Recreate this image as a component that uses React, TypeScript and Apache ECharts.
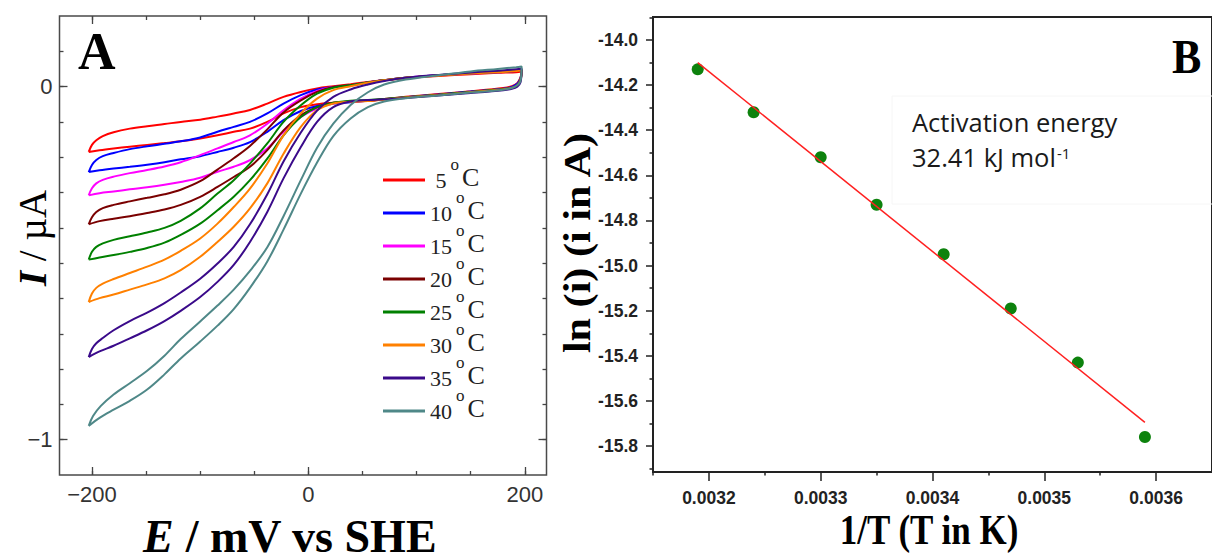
import React, { useEffect, useRef } from 'react';
import * as echarts from 'echarts';

// ---------- Panel A: cyclic voltammograms (E in mV, I in µA) ----------
const temps = ['5', '10', '15', '20', '25', '30', '35', '40'];
const cvColors = ['#ff0000', '#0000ff', '#ff00ff', '#7a0000', '#008000', '#ff8000', '#3a0a8a', '#4f8888'];

const cv05Up = [[-203,-0.185],[-200,-0.165],[-196,-0.152],[-190,-0.140],[-180,-0.129],[-165,-0.119],[-149,-0.112],[-133,-0.106],[-118,-0.100],[-100,-0.094],[-84,-0.085],[-69,-0.076],[-54,-0.066],[-38,-0.048],[-23,-0.029],[-7,-0.015],[8,-0.005],[23,0.001],[39,0.007],[55,0.013],[70,0.018],[90,0.024],[120,0.030],[150,0.035],[175,0.039],[192,0.041],[197,0.043]];
const cv05Down = [[196,0.026],[193,0.010],[188,0.001],[180,-0.004],[150,-0.013],[120,-0.021],[90,-0.029],[70,-0.035],[55,-0.040],[39,-0.043],[23,-0.046],[8,-0.050],[-7,-0.058],[-23,-0.076],[-38,-0.100],[-54,-0.119],[-69,-0.128],[-84,-0.138],[-100,-0.147],[-118,-0.155],[-133,-0.160],[-149,-0.165],[-165,-0.170],[-180,-0.175],[-193,-0.180],[-203,-0.185]];

const cv10Up = [[-203,-0.242],[-200,-0.222],[-196,-0.208],[-190,-0.197],[-180,-0.188],[-165,-0.177],[-149,-0.169],[-133,-0.162],[-118,-0.155],[-100,-0.144],[-84,-0.128],[-69,-0.114],[-54,-0.100],[-38,-0.076],[-23,-0.048],[-7,-0.024],[8,-0.008],[23,-0.001],[39,0.004],[55,0.012],[70,0.018],[90,0.025],[120,0.032],[150,0.037],[175,0.041],[192,0.044],[197,0.046]];
const cv10Down = [[196,0.024],[193,0.008],[188,-0.001],[180,-0.006],[150,-0.014],[120,-0.022],[90,-0.030],[70,-0.036],[55,-0.040],[39,-0.044],[23,-0.048],[8,-0.055],[-7,-0.069],[-23,-0.095],[-38,-0.128],[-54,-0.157],[-69,-0.173],[-84,-0.185],[-100,-0.197],[-118,-0.206],[-133,-0.214],[-149,-0.221],[-165,-0.227],[-180,-0.232],[-193,-0.237],[-203,-0.242]];

const cv15Up = [[-203,-0.308],[-200,-0.288],[-196,-0.274],[-190,-0.264],[-180,-0.255],[-165,-0.245],[-149,-0.236],[-133,-0.226],[-118,-0.214],[-100,-0.194],[-84,-0.175],[-69,-0.157],[-54,-0.138],[-38,-0.105],[-23,-0.067],[-7,-0.034],[8,-0.012],[23,-0.001],[39,0.003],[55,0.012],[70,0.018],[90,0.025],[120,0.032],[150,0.037],[175,0.042],[192,0.045],[197,0.047]];
const cv15Down = [[196,0.020],[193,0.004],[188,-0.003],[180,-0.007],[150,-0.016],[120,-0.024],[90,-0.031],[70,-0.036],[55,-0.040],[39,-0.043],[23,-0.048],[8,-0.062],[-7,-0.086],[-23,-0.128],[-38,-0.175],[-54,-0.208],[-69,-0.227],[-84,-0.241],[-100,-0.258],[-118,-0.270],[-133,-0.278],[-149,-0.285],[-165,-0.291],[-180,-0.297],[-193,-0.302],[-203,-0.308]];

const cv20Up = [[-203,-0.390],[-200,-0.370],[-196,-0.355],[-190,-0.344],[-180,-0.335],[-165,-0.325],[-149,-0.315],[-133,-0.305],[-118,-0.292],[-100,-0.268],[-84,-0.235],[-69,-0.203],[-54,-0.168],[-38,-0.121],[-23,-0.073],[-7,-0.039],[8,-0.015],[23,-0.001],[39,0.004],[55,0.012],[70,0.018],[90,0.025],[120,0.032],[150,0.038],[175,0.042],[192,0.045],[197,0.047]];
const cv20Down = [[196,0.018],[193,0.003],[188,-0.004],[180,-0.008],[150,-0.016],[120,-0.024],[90,-0.031],[70,-0.036],[55,-0.040],[39,-0.042],[23,-0.046],[8,-0.058],[-7,-0.081],[-23,-0.124],[-38,-0.180],[-54,-0.227],[-69,-0.256],[-84,-0.284],[-100,-0.312],[-118,-0.335],[-133,-0.348],[-149,-0.358],[-165,-0.367],[-180,-0.374],[-193,-0.381],[-203,-0.390]];

const cv25Up = [[-203,-0.490],[-200,-0.468],[-196,-0.454],[-190,-0.444],[-180,-0.434],[-165,-0.424],[-149,-0.413],[-133,-0.400],[-118,-0.380],[-100,-0.345],[-84,-0.303],[-69,-0.265],[-54,-0.218],[-38,-0.161],[-23,-0.100],[-7,-0.053],[8,-0.020],[23,-0.003],[39,0.004],[55,0.012],[70,0.018],[90,0.025],[120,0.032],[150,0.038],[175,0.042],[192,0.046],[197,0.048]];
const cv25Down = [[196,0.020],[193,0.004],[188,-0.003],[180,-0.007],[150,-0.015],[120,-0.023],[90,-0.030],[70,-0.035],[55,-0.038],[39,-0.040],[23,-0.046],[8,-0.058],[-7,-0.086],[-23,-0.138],[-38,-0.204],[-54,-0.265],[-69,-0.312],[-84,-0.350],[-100,-0.388],[-118,-0.420],[-133,-0.442],[-149,-0.457],[-165,-0.468],[-180,-0.477],[-193,-0.484],[-203,-0.490]];

const cv30Up = [[-203,-0.610],[-200,-0.586],[-196,-0.570],[-190,-0.558],[-180,-0.545],[-165,-0.528],[-149,-0.510],[-133,-0.490],[-118,-0.465],[-100,-0.430],[-84,-0.388],[-69,-0.341],[-54,-0.289],[-38,-0.218],[-23,-0.138],[-7,-0.076],[8,-0.034],[23,-0.010],[39,0.001],[55,0.011],[70,0.018],[90,0.025],[120,0.031],[150,0.037],[175,0.041],[192,0.044],[197,0.046]];
const cv30Down = [[196,0.018],[193,0.003],[188,-0.004],[180,-0.008],[150,-0.016],[120,-0.024],[90,-0.031],[70,-0.037],[55,-0.041],[39,-0.043],[23,-0.048],[8,-0.067],[-7,-0.114],[-23,-0.190],[-38,-0.274],[-54,-0.345],[-69,-0.397],[-84,-0.440],[-100,-0.482],[-118,-0.520],[-133,-0.543],[-149,-0.560],[-165,-0.575],[-180,-0.589],[-193,-0.599],[-203,-0.610]];

const cv35Up = [[-203,-0.766],[-200,-0.743],[-196,-0.727],[-190,-0.712],[-180,-0.690],[-165,-0.664],[-149,-0.640],[-133,-0.613],[-118,-0.583],[-100,-0.544],[-84,-0.501],[-69,-0.454],[-54,-0.390],[-38,-0.305],[-23,-0.212],[-7,-0.130],[8,-0.068],[23,-0.029],[39,-0.008],[55,0.006],[70,0.016],[90,0.025],[120,0.033],[150,0.040],[175,0.045],[192,0.049],[197,0.051]];
const cv35Down = [[196,0.012],[193,0.000],[188,-0.006],[180,-0.010],[150,-0.018],[120,-0.025],[90,-0.032],[70,-0.036],[55,-0.038],[39,-0.042],[23,-0.058],[8,-0.100],[-7,-0.171],[-23,-0.260],[-38,-0.355],[-54,-0.440],[-69,-0.505],[-84,-0.553],[-100,-0.596],[-118,-0.635],[-133,-0.664],[-149,-0.690],[-165,-0.713],[-180,-0.734],[-193,-0.750],[-203,-0.766]];

const cv40Up = [[-203,-0.961],[-199,-0.933],[-192,-0.905],[-180,-0.872],[-165,-0.840],[-149,-0.805],[-133,-0.762],[-118,-0.715],[-100,-0.665],[-84,-0.620],[-69,-0.575],[-54,-0.522],[-38,-0.455],[-23,-0.367],[-7,-0.265],[8,-0.173],[23,-0.105],[39,-0.052],[55,-0.016],[70,0.006],[90,0.020],[120,0.032],[150,0.043],[175,0.050],[192,0.055],[197,0.057]];
const cv40Down = [[196,0.016],[193,0.004],[188,-0.004],[180,-0.009],[150,-0.017],[120,-0.025],[90,-0.033],[70,-0.042],[55,-0.058],[39,-0.090],[23,-0.140],[8,-0.215],[-7,-0.303],[-23,-0.405],[-38,-0.495],[-54,-0.570],[-69,-0.630],[-84,-0.677],[-100,-0.722],[-118,-0.770],[-133,-0.815],[-149,-0.858],[-165,-0.890],[-180,-0.915],[-193,-0.938],[-203,-0.961]];

const cvLoops = [
  [...cv05Up, ...cv05Down],
  [...cv10Up, ...cv10Down],
  [...cv15Up, ...cv15Down],
  [...cv20Up, ...cv20Down],
  [...cv25Up, ...cv25Down],
  [...cv30Up, ...cv30Down],
  [...cv35Up, ...cv35Down],
  [...cv40Up, ...cv40Down],
];

const xTicksA = [-200, -150, -100, -50, 0, 50, 100, 150, 200];
const xLabelsA = [-200, 0, 200];
const yTicksA = [-1.0, -0.9, -0.8, -0.7, -0.6, -0.5, -0.4, -0.3, -0.2, -0.1, 0, 0.1];
const yLabelsA = [-1, 0];

// ---------- Panel B: Arrhenius plot ----------
const invT = [0.00319, 0.00324, 0.0033, 0.00335, 0.00341, 0.00347, 0.00353, 0.00359];
const lnI = [-14.13, -14.32, -14.52, -14.73, -14.95, -15.19, -15.43, -15.76];
const fitInvT = [0.00319, 0.00359];
const fitLnI = [-14.10, -15.695];

const xLabelsB = [0.0032, 0.0033, 0.0034, 0.0035, 0.0036];
const xMinorB = [0.00315, 0.00325, 0.00335, 0.00345, 0.00355];
const yLabelsB = [-15.8, -15.6, -15.4, -15.2, -15.0, -14.8, -14.6, -14.4, -14.2, -14.0];
const yMinorB = [-15.9, -15.7, -15.5, -15.3, -15.1, -14.9, -14.7, -14.5, -14.3, -14.1, -13.9];

const SERIF = '"Liberation Serif", "Times New Roman", serif';
const SANS = '"Liberation Sans", Arial, sans-serif';
const OPEN = '"Open Sans", sans-serif';

const minusFmt = (v: number) => (v < 0 ? '\u2212' + Math.abs(v) : String(v));

function axisA(kind: 'x' | 'y', position: string, major: boolean, withLabels: boolean) {
  const isX = kind === 'x';
  return {
    type: 'value',
    gridIndex: 0,
    position,
    min: isX ? -230 : -1.1,
    max: isX ? 220 : 0.2,
    axisLine: { show: false, onZero: false },
    splitLine: { show: false },
    axisTick: {
      show: true,
      inside: true,
      length: major ? 8 : 4,
      customValues: major ? (isX ? xLabelsA : yLabelsA) : (isX ? xTicksA : yTicksA),
      lineStyle: { color: '#444', width: 1.3 },
    },
    axisLabel: withLabels
      ? {
          show: true,
          customValues: isX ? xLabelsA : yLabelsA,
          formatter: minusFmt,
          fontSize: 22,
          fontFamily: SANS,
          color: '#333',
          margin: isX ? 8 : 7,
        }
      : { show: false },
  };
}

function axisB(kind: 'x' | 'y', major: boolean) {
  const isX = kind === 'x';
  return {
    type: 'value',
    gridIndex: 1,
    position: isX ? 'bottom' : 'left',
    min: isX ? 0.00315 : -15.915,
    max: isX ? 0.00365 : -13.898,
    axisLine: { show: false, onZero: false },
    splitLine: { show: false },
    axisTick: {
      show: true,
      inside: false,
      length: major ? (isX ? 9 : 7) : 3.5,
      customValues: major ? (isX ? xLabelsB : yLabelsB) : (isX ? xMinorB : yMinorB),
      lineStyle: { color: '#222', width: 1.5 },
    },
    axisLabel: major
      ? {
          show: true,
          customValues: isX ? xLabelsB : yLabelsB,
          formatter: (v: number) => (isX ? v.toFixed(4) : v.toFixed(1)),
          fontSize: 17.5,
          fontWeight: 'bold',
          fontFamily: SANS,
          color: '#222',
          margin: isX ? 17 : 15,
        }
      : { show: false },
  };
}

export default function App() {
  const ref = useRef<HTMLDivElement>(null);

  useEffect(() => {
    if (!ref.current) return;
    const chart = echarts.init(ref.current, undefined, { renderer: 'svg' });

    const cvSeries = temps.map((t, i) => ({
      name: t,
      type: 'line',
      xAxisIndex: 0,
      yAxisIndex: 0,
      data: cvLoops[i],
      smooth: 0.35,
      symbol: 'none',
      showSymbol: false,
      color: cvColors[i],
      lineStyle: { color: cvColors[i], width: 2 },
      z: 3,
    }));

    const option = {
      animation: false,
      backgroundColor: '#ffffff',
      grid: [
        { left: 59.5, top: 16, width: 487, height: 459, show: true, borderColor: '#4a4a4a', borderWidth: 1.5, backgroundColor: 'transparent' },
        { left: 653, top: 17, width: 566, height: 455, show: true, borderColor: '#222', borderWidth: 2, backgroundColor: 'transparent' },
      ],
      xAxis: [
        axisA('x', 'bottom', true, true),
        axisA('x', 'bottom', false, false),
        axisA('x', 'top', true, false),
        axisA('x', 'top', false, false),
        axisB('x', true),
        axisB('x', false),
      ],
      yAxis: [
        axisA('y', 'left', true, true),
        axisA('y', 'left', false, false),
        axisA('y', 'right', true, false),
        axisA('y', 'right', false, false),
        axisB('y', true),
        axisB('y', false),
      ],
      legend: {
        data: temps,
        orient: 'vertical',
        left: 383,
        top: 151.5,
        padding: 0,
        itemWidth: 42,
        itemHeight: 3,
        itemGap: -24,
        icon: 'rect',
        selectedMode: false,
        formatter: (name: string) => `{n|${name === '5' ? ' 5' : name}}{o|o}{c|C}`,
        textStyle: {
          color: '#222',
          fontFamily: SERIF,
          rich: {
            n: { fontSize: 22, fontFamily: SERIF, color: '#222', lineHeight: 20, padding: [15, 0, 15, 0] },
            o: { fontSize: 17, fontFamily: SERIF, color: '#222', lineHeight: 10, padding: [4, 0, 36, 4] },
            c: { fontSize: 26, fontFamily: SERIF, color: '#222', lineHeight: 20, padding: [12, 0, 18, 3] },
          },
        },
      },
      series: [
        ...cvSeries,
        {
          name: 'fit',
          type: 'line',
          xAxisIndex: 4,
          yAxisIndex: 4,
          data: fitInvT.map((x, i) => [x, fitLnI[i]]),
          symbol: 'none',
          lineStyle: { color: '#ff2020', width: 1.5 },
          z: 4,
        },
        {
          name: 'ln i',
          type: 'scatter',
          xAxisIndex: 4,
          yAxisIndex: 4,
          data: invT.map((x, i) => [x, lnI[i]]),
          symbolSize: 12,
          itemStyle: { color: '#0d820d', opacity: 1 },
          z: 3,
        },
      ],
      graphic: [
        { type: 'text', x: 78, y: 51, style: { text: 'A', font: `bold 52px ${SERIF}`, fill: '#000', textAlign: 'left', textVerticalAlign: 'middle' } },
        { type: 'text', x: 1172, y: 57, scaleY: 1.1, style: { text: 'B', font: `bold 44px ${SERIF}`, fill: '#000', textAlign: 'left', textVerticalAlign: 'middle' } },
        {
          type: 'text', x: 32, y: 238, rotation: Math.PI / 2,
          style: {
            text: '{i|I}{r| / \u00b5A}', textAlign: 'center', textVerticalAlign: 'middle',
            rich: {
              i: { fontFamily: SERIF, fontSize: 39, fontWeight: 'bold', fontStyle: 'italic', fill: '#000' },
              r: { fontFamily: SERIF, fontSize: 39, fill: '#000' },
            },
          },
        },
        {
          type: 'text', x: 290, y: 536,
          style: {
            text: '{e|E}{r| / mV vs SHE}', textAlign: 'center', textVerticalAlign: 'middle',
            rich: {
              e: { fontFamily: SERIF, fontSize: 46, fontWeight: 'bold', fontStyle: 'italic', fill: '#000' },
              r: { fontFamily: SERIF, fontSize: 46, fontWeight: 'bold', fill: '#000' },
            },
          },
        },
        { type: 'text', x: 929, y: 530, scaleY: 1.2, style: { text: '1/T (T in K)', font: `bold 35px ${SERIF}`, fill: '#000', textAlign: 'center', textVerticalAlign: 'middle' } },
        { type: 'text', x: 577, y: 243, rotation: Math.PI / 2, scaleX: 1.11, style: { text: 'ln (i) (i in A)', font: `bold 38px ${SERIF}`, fill: '#000', textAlign: 'center', textVerticalAlign: 'middle' } },
        { type: 'rect', shape: { x: 892, y: 96, width: 330, height: 108 }, style: { fill: 'none', stroke: '#f6f6f6', lineWidth: 1 } },
        { type: 'text', x: 912, y: 122, style: { text: 'Activation energy', font: `25.5px ${OPEN}`, fill: '#1a1a1a', textAlign: 'left', textVerticalAlign: 'middle' } },
        {
          type: 'text', x: 912, y: 157,
          style: {
            text: '{t|32.41 kJ mol}{s|-1}', textAlign: 'left', textVerticalAlign: 'middle',
            rich: {
              t: { fontFamily: OPEN, fontSize: 25.5, lineHeight: 30, fill: '#1a1a1a' },
              s: { fontFamily: OPEN, fontSize: 15, lineHeight: 14, verticalAlign: 'top', padding: [3, 0, 0, 1], fill: '#1a1a1a' },
            },
          },
        },
      ],
    };

    chart.setOption(option as any);
    return () => chart.dispose();
  }, []);

  return (
    <div
      ref={ref}
      style={{ position: 'fixed', left: 0, top: 0, width: 1212, height: 560, background: '#fff' }}
    />
  );
}
